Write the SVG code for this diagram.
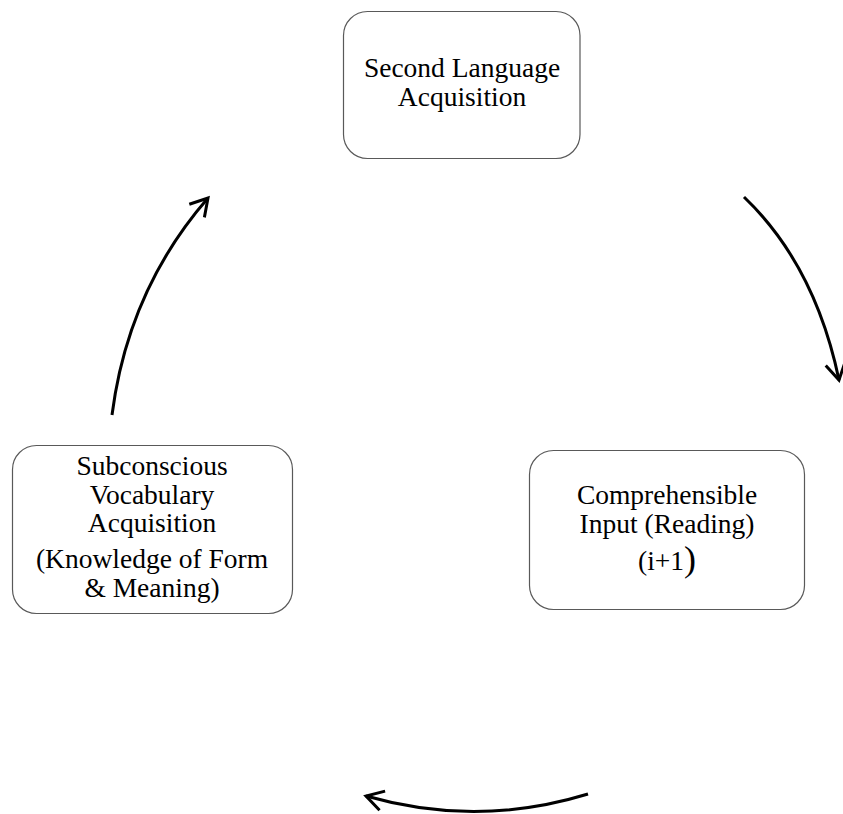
<svg xmlns="http://www.w3.org/2000/svg" width="843" height="814" viewBox="0 0 843 814">
  <style>
    .box { fill: #ffffff; stroke: #595959; stroke-width: 1.2; }
    .lbl { font-family: "Liberation Serif", "Times New Roman", serif; font-size: 27.5px; fill: #000000; text-anchor: middle; }
    .conn { fill: none; stroke: #000000; stroke-width: 3; marker-end: url(#ah); }
  </style>
  <defs>
    <marker id="ah" markerUnits="userSpaceOnUse" markerWidth="40" markerHeight="40" viewBox="-20 -20 40 40" refX="0" refY="0" orient="auto" overflow="visible">
      <path d="M -17,-10 L 0,0 L -17,10" fill="none" stroke="#000000" stroke-width="3" stroke-linejoin="miter"/>
    </marker>
  </defs>
  <rect width="843" height="814" fill="#ffffff"/>

  <g id="node-sla">
    <rect class="box" x="343.5" y="11.5" width="236.5" height="147" rx="24"/>
    <text class="lbl" x="462" y="77">Second Language</text>
    <text class="lbl" x="462" y="106">Acquisition</text>
  </g>

  <g id="node-ci">
    <rect class="box" x="529.5" y="450.5" width="275" height="159" rx="24"/>
    <text class="lbl" x="667" y="504">Comprehensible</text>
    <text class="lbl" x="667" y="533">Input (Reading)</text>
    <text class="lbl" x="667" y="570">(i+1<tspan font-size="36" dy="1">)</tspan></text>
  </g>

  <g id="node-sva">
    <rect class="box" x="12.5" y="445.5" width="280" height="168" rx="24"/>
    <text class="lbl" x="152" y="475">Subconscious</text>
    <text class="lbl" x="152" y="503.5">Vocabulary</text>
    <text class="lbl" x="152" y="532">Acquisition</text>
    <text class="lbl" x="152" y="568">(Knowledge of Form</text>
    <text class="lbl" x="152" y="596.5">&amp; Meaning)</text>
  </g>

  <g id="connectors">
    <path class="conn" d="M 744,197 Q 815,265 839,380"/>
    <path class="conn" d="M 588,794 Q 477,828 366,796"/>
    <path class="conn" d="M 112,415 Q 128,290 208,198"/>
  </g>
</svg>
